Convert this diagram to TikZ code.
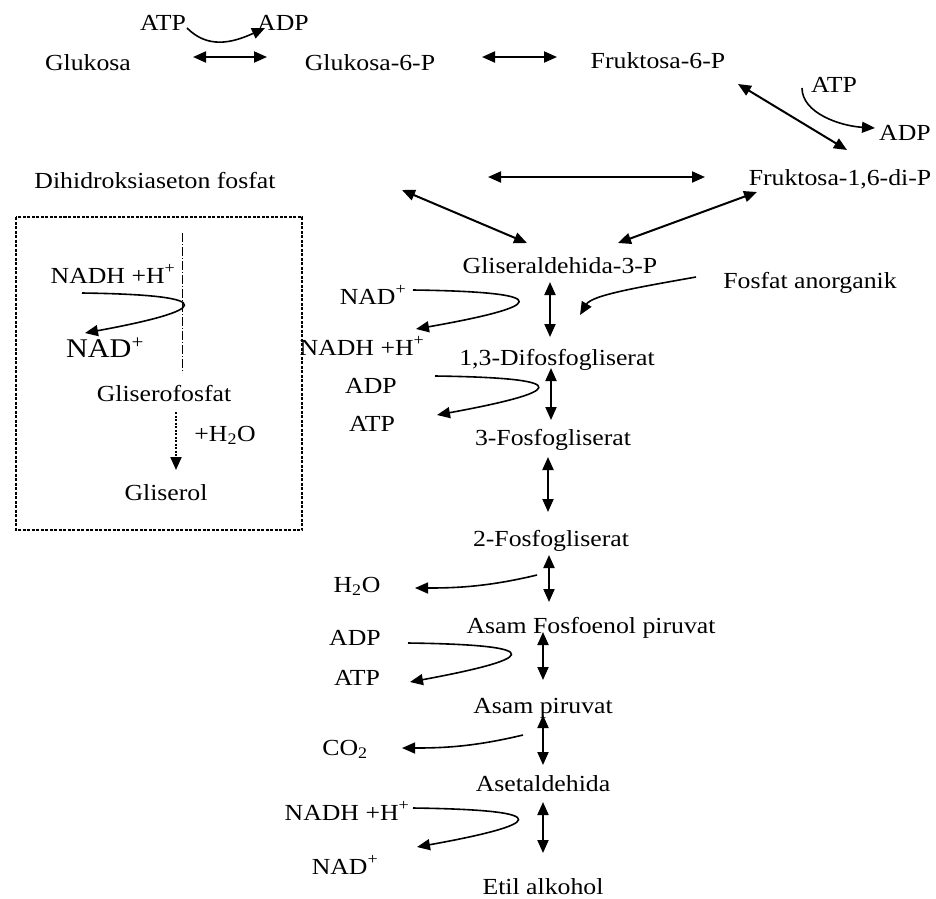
\documentclass[tikz,border=0pt]{standalone}
\usepackage{fontspec}
\setmainfont[FakeStretch=1.12]{Liberation Serif}
\usetikzlibrary{arrows.meta}

\begin{document}
\begin{tikzpicture}[x=1pt, y=-1pt,
	lbl/.style={inner sep=0pt, text height=16pt, text depth=0pt, font=\fontsize{23}{27}\selectfont},
	big/.style={lbl, text height=19pt, font=\fontsize{27}{31}\selectfont},
	rx/.style={line width=2pt, {Triangle[length=13pt,width=11pt]}-{Triangle[length=13pt,width=11pt]}},
	side/.style={line width=1.6pt, -{Triangle[length=13pt,width=11pt]}}]
	\useasboundingbox (0,0) rectangle (936,898); % Rand um Grafik
	
	% Glukosa bis Fruktosa-1,6-di-P
	\node[lbl] (atpa) at (163,22) {ATP};
	\node[lbl] (adpa) at (283,22) {ADP};
	\node[lbl] (glu) at (88,62) {Glukosa};
	\node[lbl] (gsp) at (370,62) {Glukosa-6-P};
	\node[lbl] (fsp) at (658,60) {Fruktosa-6-P};
	\node[lbl] (atpb) at (834,84) {ATP};
	\node[lbl] (adpb) at (905,132) {ADP};
	\node[lbl] (fdp) at (840,177) {Fruktosa-1,6-di-P};
	\node[lbl] (dhap) at (155,180) {Dihidroksiaseton fosfat};
	
	\draw[side] ([shift={(24,6)}]atpa.center) .. controls +(20,20) and +(-35,16) .. ([shift={(-18,6)}]adpa.center);
	\draw[rx] ([shift={(105,-5)}]glu.center) -- ([shift={(-103,-5)}]gsp.center);
	\draw[rx] ([shift={(112,-5)}]gsp.center) -- ([shift={(-101,-3)}]fsp.center);
	\draw[rx] ([shift={(80,24)}]fsp.center) -- ([shift={(7,-27)}]fdp.center);
	\draw[side] ([shift={(-32,4)}]atpb.center) .. controls +(0,25) and +(-35,-2) .. ([shift={(-30,-4)}]adpb.center);
	\draw[rx] ([shift={(333,-3)}]dhap.center) -- ([shift={(-135,0)}]fdp.center);
	
	% Glykolyse ab Gliseraldehida-3-P
	\node[lbl] (gap) at (560,265) {Gliseraldehida-3-P};
	\node[lbl] (pi) at (810,280) {Fosfat anorganik};
	\node[lbl] (nadc) at (373,296) {NAD\textsuperscript{+}};
	\node[lbl] (nadhc) at (362,347) {NADH +H\textsuperscript{+}};
	\node[lbl] (dpg) at (557,357) {1,3-Difosfogliserat};
	\node[lbl] (adpd) at (371,385) {ADP};
	\node[lbl] (atpd) at (372,423) {ATP};
	\node[lbl] (pga) at (553,437) {3-Fosfogliserat};
	\node[lbl] (pgb) at (551,538) {2-Fosfogliserat};
	\node[lbl] (h2o) at (357,584) {H\textsubscript{2}O};
	\node[lbl] (pep) at (591,625) {Asam Fosfoenol piruvat};
	\node[lbl] (adpe) at (355,637) {ADP};
	\node[lbl] (atpe) at (357,677) {ATP};
	\node[lbl] (pir) at (543,705) {Asam piruvat};
	\node[lbl] (co2) at (345,747) {CO\textsubscript{2}};
	\node[lbl] (asd) at (543,783) {Asetaldehida};
	\node[lbl] (nadhf) at (347,812) {NADH +H\textsuperscript{+}};
	\node[lbl] (nadf) at (345,866) {NAD\textsuperscript{+}};
	\node[lbl] (eta) at (543,886) {Etil alkohol};
	
	\draw[rx] ([shift={(247,10)}]dhap.center) -- ([shift={(-33,-22)}]gap.center);
	\draw[rx] ([shift={(-83,15)}]fdp.center) -- ([shift={(58,-22)}]gap.center);
	
	\draw[rx] ([shift={(-10,17)}]gap.center) -- ([shift={(-7,-20)}]dpg.center);
	\draw[rx] ([shift={(-6,11)}]dpg.center) -- ([shift={(-2,-17)}]pga.center);
	\draw[rx] ([shift={(-5,20)}]pga.center) -- ([shift={(-3,-26)}]pgb.center);
	\draw[rx] ([shift={(-2,17)}]pgb.center) -- ([shift={(-42,-23)}]pep.center);
	\draw[rx] ([shift={(-48,7)}]pep.center) -- ([shift={(0,-25)}]pir.center);
	\draw[rx] ([shift={(0,10)}]pir.center) -- ([shift={(0,-18)}]asd.center);
	\draw[rx] ([shift={(0,19)}]asd.center) -- ([shift={(0,-33)}]eta.center);
	
	\draw[side] ([shift={(-114,-3)}]pi.center) .. controls +(-56,10) and +(12,-20) .. ([shift={(20,50)}]gap.center);
	\draw[side] ([shift={(40,-6)}]nadc.center) .. controls +(150,2) and +(125,-22) .. ([shift={(54,-18)}]nadhc.center);
	\draw[side] ([shift={(64,-9)}]adpd.center) .. controls +(150,2) and +(120,-22) .. ([shift={(65,-8)}]atpd.center);
	\draw[side] ([shift={(-14,37)}]pgb.center) .. controls +(-50,12) and +(40,0) .. ([shift={(58,4)}]h2o.center);
	\draw[side] ([shift={(53,6)}]adpe.center) .. controls +(150,2) and +(119,-22) .. ([shift={(53,5)}]atpe.center);
	\draw[side] ([shift={(-20,30)}]pir.center) .. controls +(-50,12) and +(40,0) .. ([shift={(57,1)}]co2.center);
	\draw[side] ([shift={(66,-4)}]nadhf.center) .. controls +(150,2) and +(122,-22) .. ([shift={(72,-19)}]nadf.center);
	
	% Kasten Gliserol
	\draw[line width=2.5pt, dash pattern=on 3pt off 1.5pt] (16,217) rectangle (302,530);
	\node[lbl] (nadhg) at (113,275) {NADH +H\textsuperscript{+}};
	\node[big] (nadg) at (105,348) {NAD\textsuperscript{+}};
	\node[lbl] (glp) at (164,393) {Gliserofosfat};
	\node[lbl] (h2og) at (225,433) {+H\textsubscript{2}O};
	\node[lbl] (gol) at (166,492) {Gliserol};
	
	\draw[line width=1pt, dash pattern=on 9pt off 2pt on 1pt off 2pt] ([shift={(18,-160)}]glp.center) -- ([shift={(18,-20)}]glp.center);
	\draw[side] ([shift={(-31,18)}]nadhg.center) .. controls +(145,2) and +(120,-22) .. ([shift={(-20,-15)}]nadg.center);
	\draw[side, dash pattern=on 2pt off 1.5pt, line width=2pt] ([shift={(12,19)}]glp.center) -- ([shift={(10,-22)}]gol.center);
	
	%\draw[help lines, step=50] (0,0) grid (936,898);
\end{tikzpicture}
\end{document}
